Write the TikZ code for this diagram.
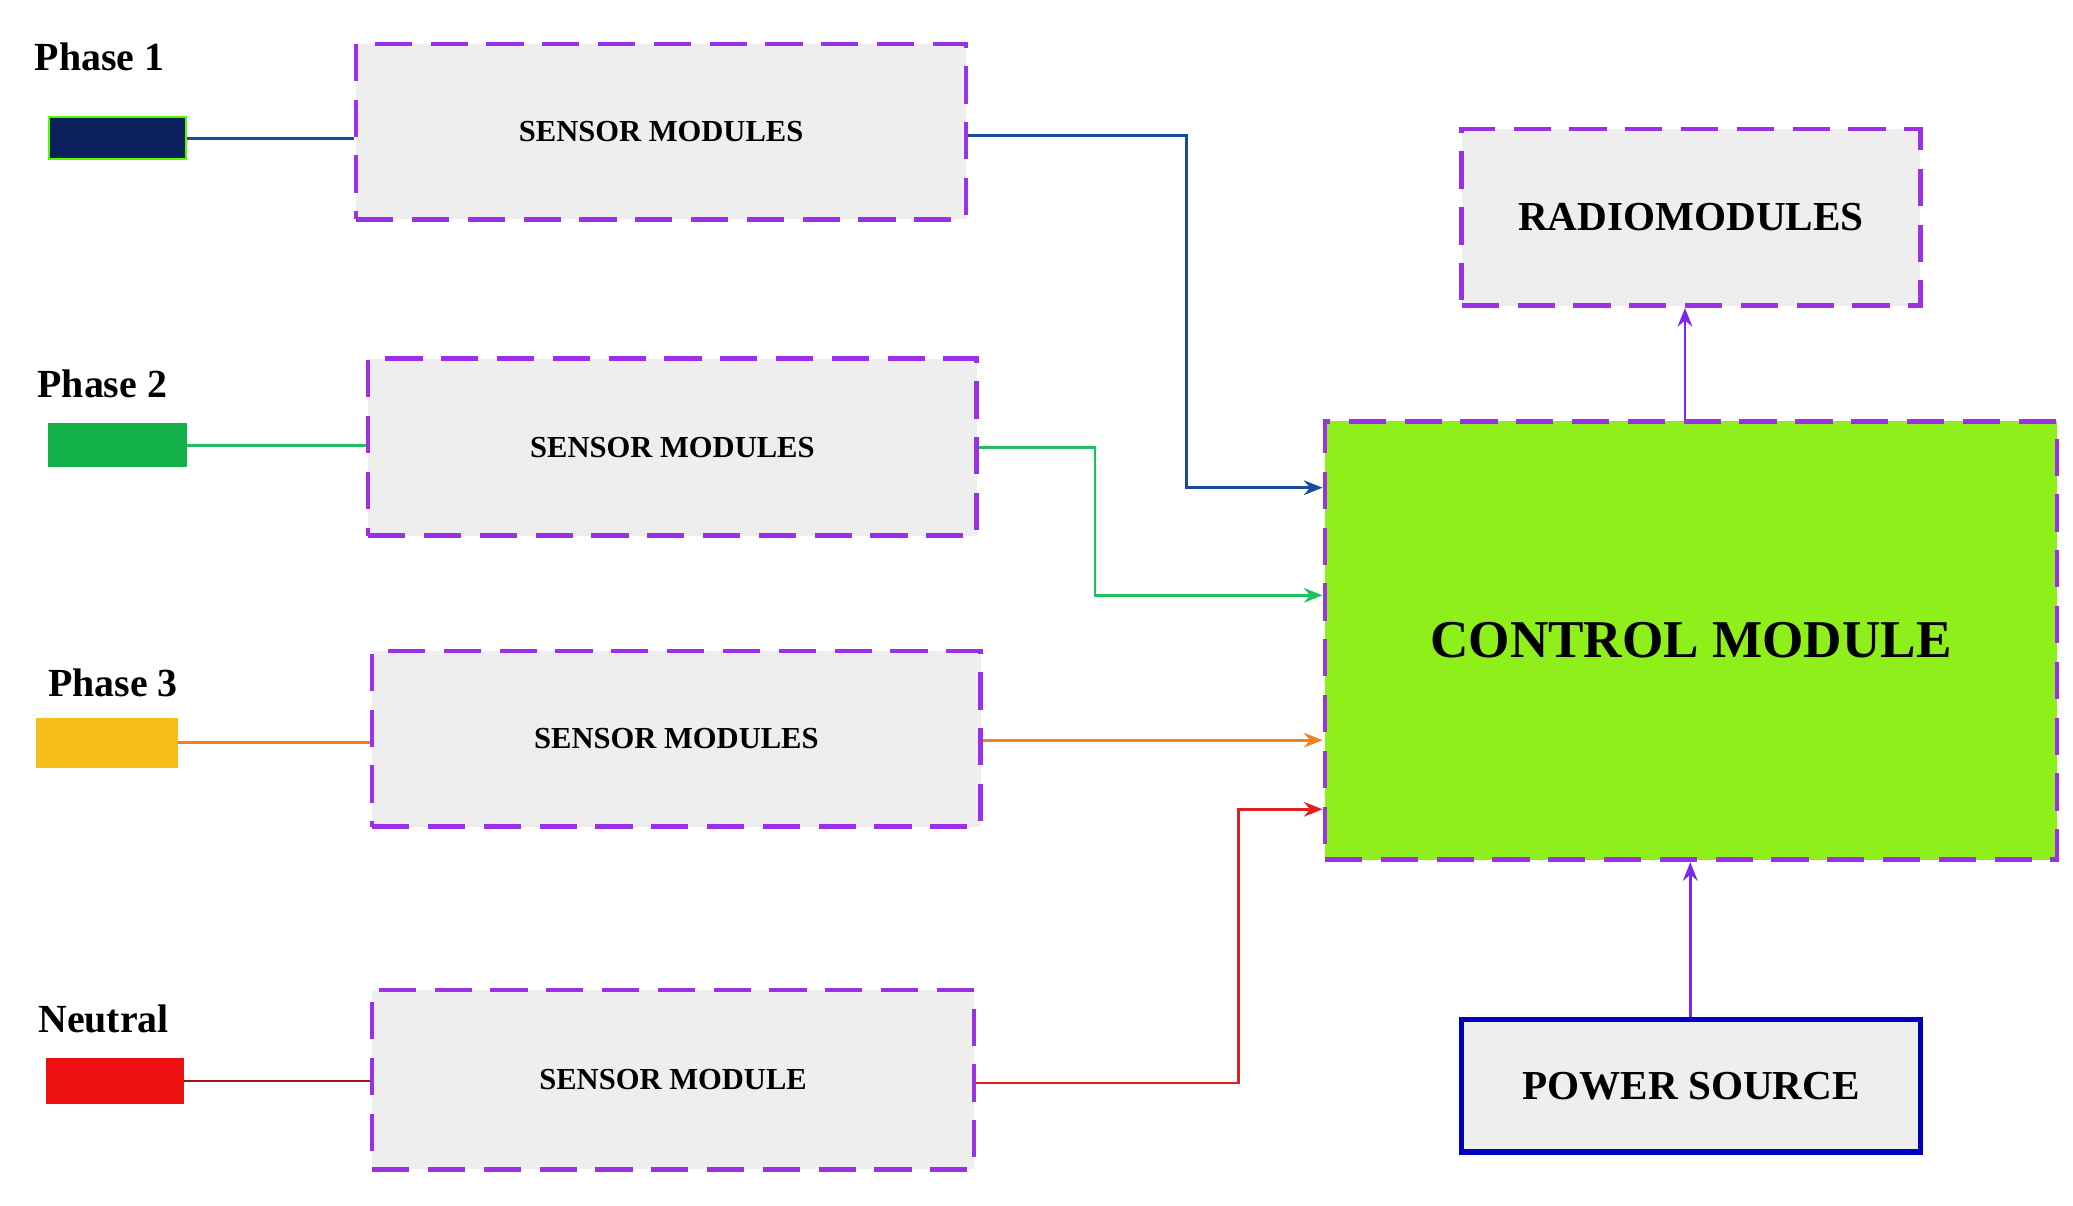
\documentclass[tikz,border=0pt]{standalone}
\usepackage{fontspec}
\setmainfont{Liberation Serif}
\usetikzlibrary{arrows.meta}
\definecolor{pur}{HTML}{9B30E8}
\definecolor{boxg}{HTML}{EEEEEE}
\definecolor{navy}{HTML}{0A1F5C}
\definecolor{ph2}{HTML}{14B04A}
\definecolor{ph3}{HTML}{F5BE1A}
\definecolor{neu}{HTML}{EE1111}
\definecolor{ctrl}{HTML}{8FEF1A}
\definecolor{l1}{HTML}{1A4A9A}
\definecolor{l2}{HTML}{20C060}
\definecolor{l3}{HTML}{F08020}
\definecolor{l4}{HTML}{E02020}
\begin{document}
\begin{tikzpicture}[x=1pt,y=-1pt,
  dbox/.style={draw=pur,fill=boxg,line width=3.5pt,dash pattern=on 28pt off 14pt,font=\bfseries\fontsize{23}{26}\selectfont},
  bar/.style={line width=1.5pt},
  lab/.style={font=\bfseries\fontsize{30}{34}\selectfont},
  con/.style={line width=2.2pt,-{Stealth[length=14pt,width=11pt]}},
  ln/.style={line width=2.2pt}]
\useasboundingbox (0,0) rectangle (1560,907);
\fill[white] (0,0) rectangle (1560,907);
% labels and bars
\node[lab] (t1) at (75,43) {Phase 1};
\node[lab] (t2) at (77,289) {Phase 2};
\node[lab] (t3) at (85,514) {Phase 3};
\node[lab] (t4) at (78,767) {Neutral};
\node[bar,draw=green!70!yellow,fill=navy,minimum width=103pt,minimum height=32pt,inner sep=0] (b1) at (88.5,104) {};
\node[bar,draw=ph2,fill=ph2,minimum width=103pt,minimum height=32pt,inner sep=0] (b2) at (88.5,335) {};
\node[bar,draw=ph3,fill=ph3,minimum width=105pt,minimum height=36pt,inner sep=0] (b3) at (80.5,559) {};
\node[bar,draw=neu,fill=neu,minimum width=103pt,minimum height=33pt,inner sep=0] (b4) at (86.5,813.5) {};
% sensor boxes
\node[dbox,minimum width=459pt,minimum height=132pt] (s1) at (497.5,99) {SENSOR MODULES};
\node[dbox,minimum width=458pt,minimum height=133pt] (s2) at (506,336.5) {SENSOR MODULES};
\node[dbox,minimum width=458pt,minimum height=132pt] (s3) at (509,556) {SENSOR MODULES};
\node[dbox,minimum width=453pt,minimum height=135pt] (s4) at (506.5,812.5) {SENSOR MODULE};
% right side
\node[dbox,minimum width=345pt,minimum height=133pt,font=\bfseries\fontsize{31}{34}\selectfont] (r) at (1272.5,163.5) {RADIOMODULES};
\node[dbox,fill=ctrl,minimum width=551pt,minimum height=330pt,font=\bfseries\fontsize{40}{44}\selectfont] (c) at (1272.5,482) {CONTROL MODULE};
\node[draw=blue!75!black,fill=boxg,line width=4pt,minimum width=345pt,minimum height=100pt,font=\bfseries\fontsize{31}{34}\selectfont] (p) at (1272.5,817) {POWER SOURCE};
% bar to sensor
\draw[ln,l1] (b1.east) -- (s1.west|-b1.east);
\draw[ln,l2] (b2.east) -- (s2.west|-b2.east);
\draw[ln,l3] (b3.east) -- (s3.west|-b3.east);
\draw[ln,l4!70!black] (b4.east) -- (s4.west|-b4.east);
% sensors to control
\coordinate (k1) at (893,102);
\coordinate (k2) at (824,337);
\coordinate (k4) at (932,815);
\draw[con,l1] (s1.east|-k1) -- (k1) |- (c.west|-0,367);
\draw[con,l2] (s2.east|-k2) -- (k2) |- (c.west|-0,448);
\draw[con,l3] (s3.east|-0,557) -- (c.west|-0,557);
\draw[con,l4] (s4.east|-k4) -- (k4) |- (c.west|-0,609);
\draw[con,pur!80!blue] (c.north-|1268,0) -- (r.south-|1268,0);
\draw[con,pur!80!blue] (p.north-|1272,0) -- (c.south-|1272,0);
\end{tikzpicture}
\end{document}
